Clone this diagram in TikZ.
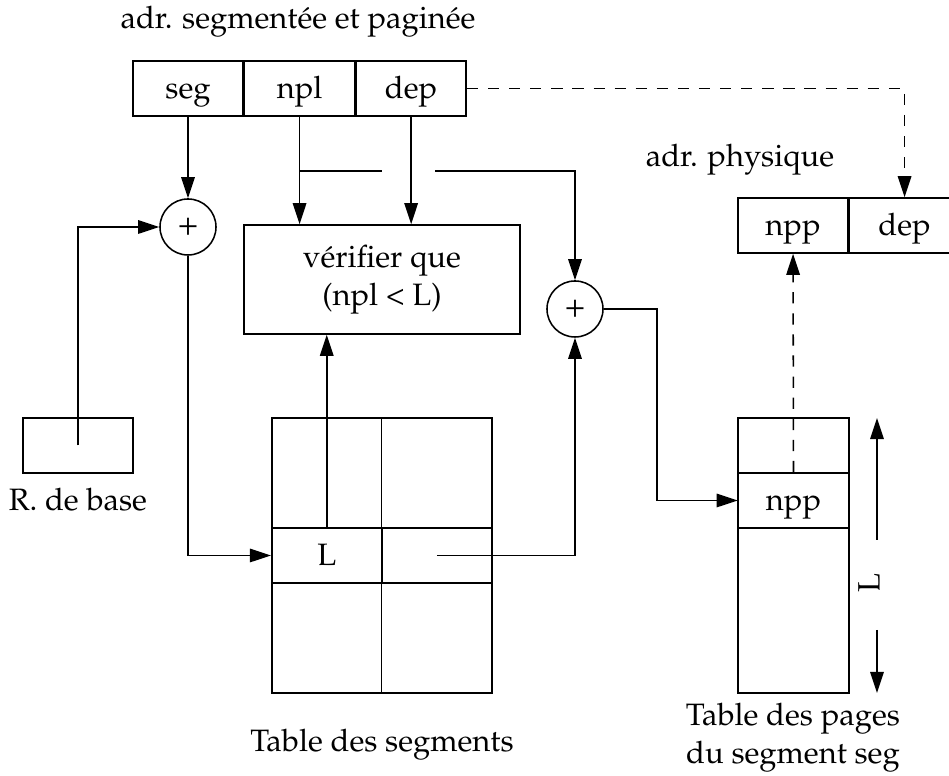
\documentclass[tikz,border=0pt]{standalone}
\usepackage[T1]{fontenc}
\usepackage{mathpazo}
\usetikzlibrary{arrows.meta,positioning}

\begin{document}
\begin{tikzpicture}[
    x=0.0125cm, y=-0.0125cm,
    >={Triangle[length=7.5pt,width=4.8pt]},
    line width=0.55pt,
    every node/.style={font=\fontsize{11}{13.5}\selectfont},
    % styles
    cell/.style={draw, minimum width=1.375cm, minimum height=0.6875cm, inner sep=0pt,
      text height=8pt, text depth=0.6pt},
    plus/.style={draw, circle, minimum size=0.7cm, inner sep=0pt},
    link/.style={->},
    physlink/.style={->, dash pattern=on 4pt off 3.5pt}
  ]
  \useasboundingbox (0,0) rectangle (949,776);

  % --- adresse segmentee et paginee ---
  \node (titre) at (298,22) {adr. segment\'ee et pagin\'ee};
  \node[cell] (seg) at (188,88.5) {seg};
  \node[cell, right=0pt of seg] (npl) {npl};
  \node[cell, right=0pt of npl] (dep) {dep};

  % --- additionneurs et verification ---
  \node[plus] (plusA) at (188,227) {\large +};
  \node[plus] (plusB) at (575,309) {\large +};
  \node[draw, align=center, minimum width=3.45cm, minimum height=1.3625cm,
    inner sep=0pt] (verif) at (382,279.5) {v\'erifier que\\(npl < L)};

  % --- registre de base ---
  \node[cell] (base) at (78,445.5) {};
  \node (baselbl) at (78,500) {R. de base};

  % --- table des segments ---
  \draw (272,418) rectangle (492,693);
  \draw (381.5,418) -- (381.5,693);
  \node[cell] (segL) at (326.75,555.5) {L};
  \node[cell] (segR) at (436.75,555.5) {};
  \node (segtab) at (382,745) {Table des segments};

  % --- table des pages ---
  \draw (738,418) rectangle (849,693);
  \node[cell] (ppp) at (793.5,500.5) {npp};
  \node[align=center] (pagetab) at (793,738) {Table des pages\\du segment seg};

  \node[rotate=90] (len) at (869,583) {L};
  \coordinate (lenTop) at (877,418);
  \coordinate (lenUp) at (877,540);
  \coordinate (lenDown) at (877,630);
  \coordinate (lenBot) at (877,693);
  \draw[link] (lenUp) -- (lenTop);
  \draw[link] (lenDown) -- (lenBot);

  % --- adresse physique ---
  \node (physlbl) at (740,160) {adr. physique};
  \node[cell] (physnpp) at (793,225.5) {npp};
  \node[cell, right=0pt of physnpp] (physdep) {dep};

  % --- liaisons ---
  \coordinate (gapL) at (382,171);
  \coordinate (gapR) at (435,171);
  \coordinate (turn) at (657,400);

  \draw[link] (seg) -- (plusA);
  \draw[link] (npl) -- (npl |- verif.north);
  \draw[link] (dep) -- (dep |- verif.north);
  \draw (npl |- gapL) -- (gapL);
  \draw[link] (gapR) -| (plusB);
  \draw[link] (base.center) |- (plusA);
  \draw[link] (plusA) |- (segL);
  \draw[link] (segL) -- (segL |- verif.south);
  \draw[link] (segR.center) -| (plusB);
  \draw[link] (plusB) -| (turn) |- (ppp);
  \draw[physlink] (ppp.north) -- (physnpp);
  \draw[physlink] (dep) -| (physdep);
\end{tikzpicture}
\end{document}
